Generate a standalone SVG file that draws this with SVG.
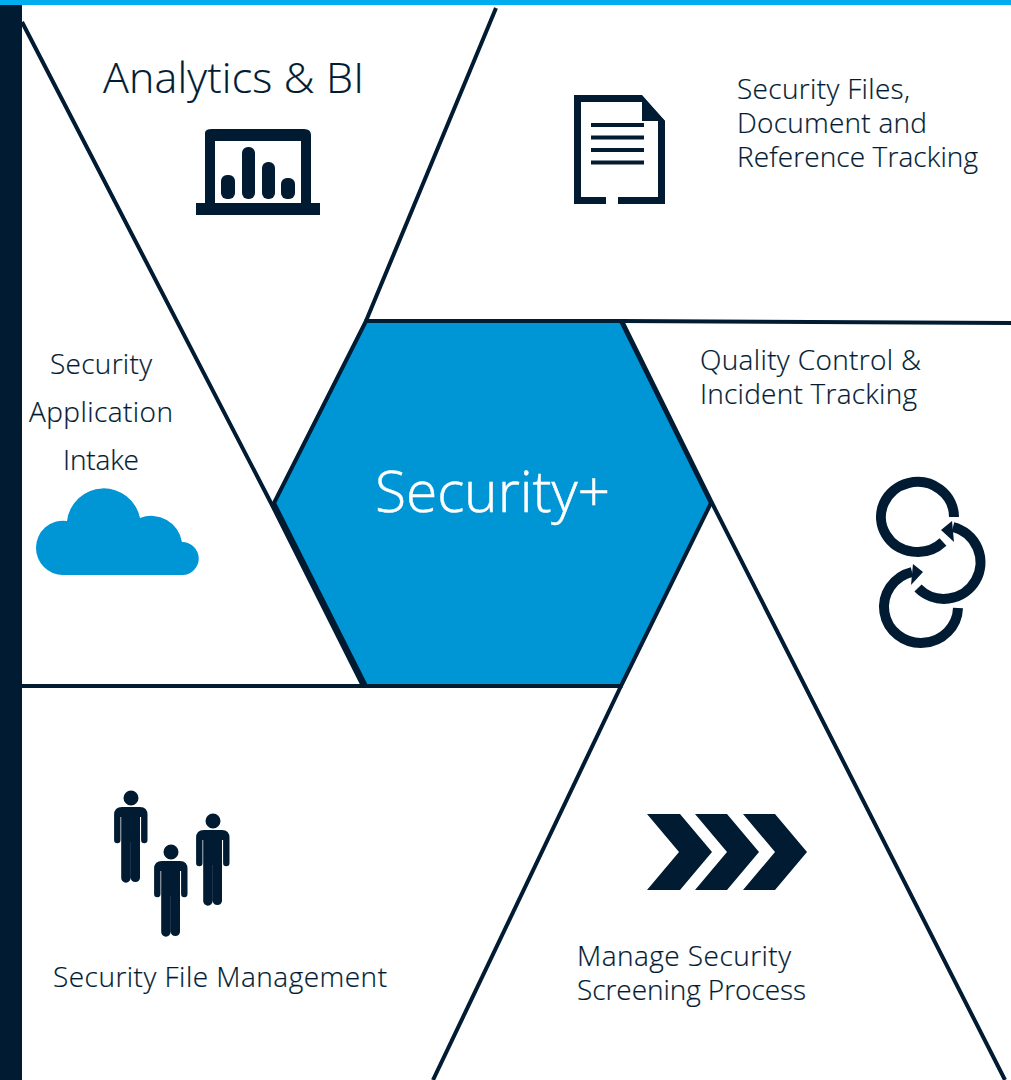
<svg xmlns="http://www.w3.org/2000/svg" width="1011" height="1080" viewBox="0 0 1011 1080">
<style>
text{font-family:"Open Sans","Noto Sans","Liberation Sans",sans-serif;font-weight:300;fill:#011b33;stroke:#011b33;stroke-width:.2;font-size:28px}
.hub{fill:#fff;stroke:#fff;stroke-width:.5;font-size:57px}
.ln{fill:none;stroke:#011b33;stroke-width:4}
.dk{fill:#011b33}
.arc{fill:none;stroke:#011b33;stroke-width:10}
</style>
<defs>
<path id="person" class="dk" d="M122,807H140Q147.5,807 147.5,815V840a3.2,3.2 0 0 1-6.4,0V817H140V878a4.7,4.7 0 0 1-9.3,0V842H130.6V878a4.7,4.7 0 0 1-9.4,0V817H120.5V840a3.2,3.2 0 0 1-6.4,0V815Q114,807 122,807ZM138.5,798a7.5,7.5 0 1 1-15,0a7.5,7.5 0 1 1 15,0Z"/>
</defs>
<rect width="1011" height="1080" fill="#fff"/>
<rect id="top-bar" width="1011" height="5" fill="#00aeef"/>
<rect id="side-bar" y="5" width="22" height="1075" fill="#011b33"/>
<g id="hub">
<polygon points="366,321 621,321 711,503 621,686 366,686 274,503" fill="#0096d6" stroke="#011b33" stroke-width="4"/>
<text class="hub" x="375" y="512" textLength="235">Security+</text>
</g>
<g id="connectors">
<path class="ln" d="M22,22L271,503L363,686"/>
<path class="ln" d="M366,321L496,8"/>
<path class="ln" d="M621,321L1011,323"/>
<path class="ln" d="M622,321L712,503L1005,1080"/>
<path class="ln" d="M621,686L433,1080"/>
<path class="ln" d="M22,686H366"/>
</g>
<g id="analytics">
<text x="103" y="93" style="font-size:43px" textLength="261">Analytics &amp; BI</text>
<path class="dk" d="M196,203H205V133Q205,129 212,129H304Q311,129 311,135V203H320V215H196ZM215,141V203H301V141Z" fill-rule="evenodd"/>
<rect class="dk" x="221" y="175" width="14" height="24" rx="6"/>
<rect class="dk" x="242" y="147" width="13" height="52" rx="6"/>
<rect class="dk" x="262" y="162" width="13" height="37" rx="6"/>
<rect class="dk" x="281" y="178" width="14" height="21" rx="6"/>
</g>
<g id="files">
<path class="dk" d="M574,95H642L665,121V204H618V197H658V121H642V102H581V197H606V204H574Z"/>
<path class="dk" d="M642,96L665,121H642Z"/>
<rect class="dk" x="591" y="123" width="53" height="4"/>
<rect class="dk" x="591" y="135.500" width="53" height="4"/>
<rect class="dk" x="591" y="148" width="53" height="4"/>
<rect class="dk" x="591" y="160.500" width="53" height="4"/>
<text x="737" y="99" textLength="173">Security Files,</text>
<text x="737" y="133" textLength="190">Document and</text>
<text x="737" y="167" textLength="241">Reference Tracking</text>
</g>
<g id="quality">
<text x="700" y="370" textLength="221">Quality Control &amp;</text>
<text x="700" y="404" textLength="217">Incident Tracking</text>
<path class="arc" d="M954,517A36.500,35 0 1 0 943,542"/>
<path class="arc" d="M953,527A36.500,36.500 0 1 1 918,588"/>
<path class="dk" d="M941,530L952,521L954,542Z"/>
<path class="arc" d="M958,608A37,36 0 1 1 912,572"/>
<path class="dk" d="M923,572L913,564L911,585Z"/>
</g>
<g id="intake">
<text x="50" y="374" textLength="102">Security</text>
<text x="29" y="422" textLength="144">Application</text>
<text x="63" y="470" textLength="76">Intake</text>
<path fill="#0096d6" d="M63,575A27,27 0 0 1 36,548A27,27 0 0 1 67,521A37,37 0 0 1 140,518A31,31 0 0 1 182,542A16.500,16.500 0 0 1 182.500,575Z"/>
</g>
<g id="screening">
<polygon class="dk" points="647,814 680,814 712,852 680,890 647,890 679,852"/>
<polygon class="dk" points="695,814 727,814 759,852 727,890 695,890 727,852"/>
<polygon class="dk" points="743,814 775,814 807,852 775,890 743,890 775,852"/>
<text x="577" y="966" textLength="214">Manage Security</text>
<text x="577" y="1000" textLength="229">Screening Process</text>
</g>
<g id="file-management">
<use href="#person"/>
<use href="#person" x="40" y="54"/>
<use href="#person" x="82" y="23"/>
<text x="53" y="987" textLength="334">Security File Management</text>
</g>
</svg>
